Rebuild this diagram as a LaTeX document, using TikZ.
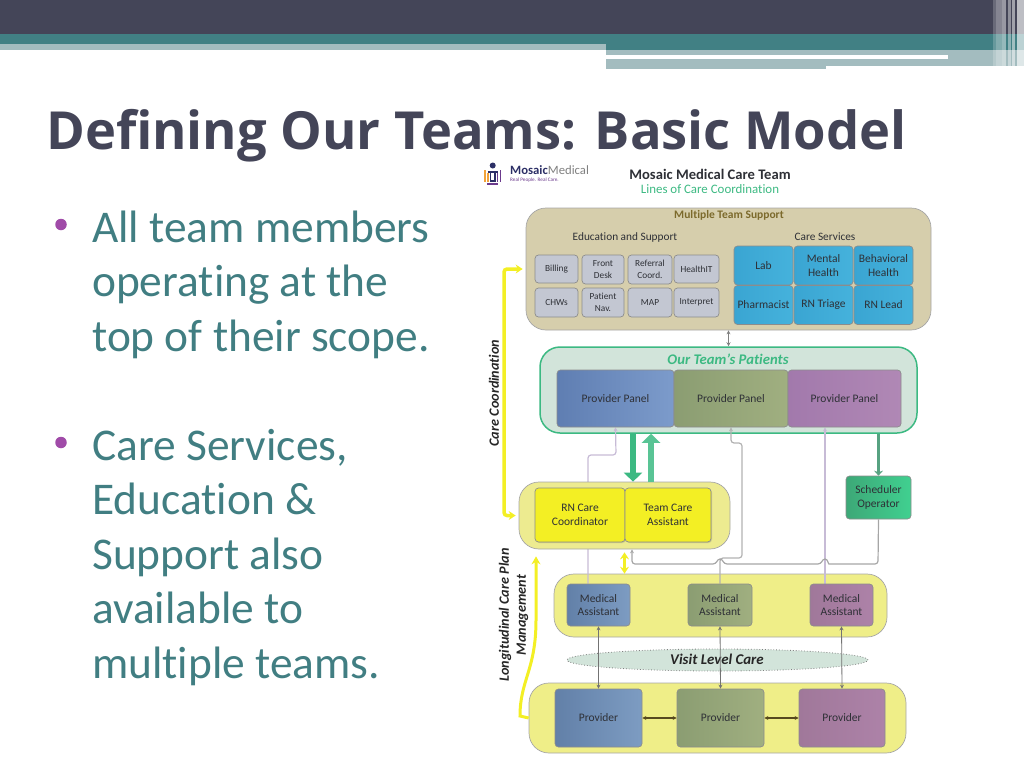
\documentclass[tikz,border=0pt]{standalone}
\usepackage{fontspec}
\setmainfont[Ligatures=NoCommon]{Carlito}
\newfontfamily\titlefont{Open Sans}
\usetikzlibrary{arrows.meta,shadows,shapes.geometric}
\definecolor{slate}{HTML}{444558}
\definecolor{teal1}{HTML}{418084}
\definecolor{teal2}{HTML}{A3BCBF}
\definecolor{bodytxt}{HTML}{417E82}
\definecolor{tanbox}{HTML}{D6CEAC}
\definecolor{paleyel}{HTML}{EFEE88}
\definecolor{paleyel2}{HTML}{EDEB90}
\definecolor{palegrn}{HTML}{D2E4DA}
\definecolor{green1}{HTML}{3CB982}
\definecolor{yel}{HTML}{F3EF24}
\definecolor{txtdk}{HTML}{2E3036}
\definecolor{greycell}{HTML}{C3C7D2}
\definecolor{bullet}{HTML}{A04BA8}
\definecolor{navy}{HTML}{2C2F66}
\definecolor{logopur}{HTML}{6B3A8C}
\definecolor{logoorg}{HTML}{F2A33A}
\definecolor{topbrown}{HTML}{7C6A2C}
\definecolor{lavender}{HTML}{C7BBD6}
\definecolor{skya}{HTML}{3AA5D2}\definecolor{skyb}{HTML}{45B2DC}
\definecolor{bluea}{HTML}{5F7EB2}\definecolor{blueb}{HTML}{7C9BCB}
\definecolor{steela}{HTML}{6280A8}\definecolor{steelb}{HTML}{7D9CC2}
\definecolor{olivea}{HTML}{8B9D72}\definecolor{oliveb}{HTML}{A0AF80}
\definecolor{purpa}{HTML}{A279AC}\definecolor{purpb}{HTML}{B088B5}
\definecolor{mauvea}{HTML}{A0789A}\definecolor{mauveb}{HTML}{AD82A8}
\definecolor{grna}{HTML}{3DA877}\definecolor{grnb}{HTML}{40D090}
\pgfdeclarelayer{back}
\pgfdeclarelayer{conn}
\pgfsetlayers{back,conn,main}
\tikzset{
  rowbox/.style={draw=black!35, rounded corners=20pt, line width=.7pt, inner sep=0pt},
  cell/.style={draw=black!45, rounded corners=3.5pt, line width=.7pt, inner sep=0pt, align=center,
    text=txtdk, font=\fontsize{11.5}{13.5}\selectfont},
  smallcell/.style={cell, fill=greycell, font=\fontsize{9.3}{11.5}\selectfont},
  skycell/.style={cell, left color=skya, right color=skyb},
  bluecell/.style={cell, left color=bluea, right color=blueb},
  steelcell/.style={cell, left color=steela, right color=steelb},
  olivecell/.style={cell, left color=olivea, right color=oliveb},
  purplecell/.style={cell, left color=purpa, right color=purpb},
  mauvecell/.style={cell, left color=mauvea, right color=mauveb},
  greencell/.style={cell, left color=grna, right color=grnb},
  yellowcell/.style={cell, fill=yel, drop shadow={opacity=.3,shadow xshift=1pt,shadow yshift=-1pt}},
  tinytips/.style={{Stealth[length=4pt,width=4pt]}-{Stealth[length=4pt,width=4pt]}},
  yellowtips/.style={{Stealth[length=7pt,width=9pt]}-{Stealth[length=7pt,width=9pt]}},
  greyline/.style={line width=1.2pt, rounded corners=3pt, -{Stealth[length=4pt,width=4pt]}},
  sidelabel/.style={rotate=90, font=\bfseries\itshape\fontsize{14.2}{17}\selectfont, text=black!85, align=center, inner sep=0pt},
  bigtext/.style={font=\fontsize{45.4}{54.5}\selectfont, text=bodytxt, align=left, anchor=base west, inner sep=0pt},
  bulletdot/.style={fill=bullet, circle, minimum size=11.5pt, inner sep=0pt}
}
\begin{document}
\begin{tikzpicture}[x=1pt,y=-1pt]
\useasboundingbox (0,0) rectangle (1024,768);

% --- Header bands ---
\fill[slate] (0,0) rectangle (1024,34);
\fill[teal1] (0,34) rectangle (1024,50);
\fill[teal2] (0,44) rectangle (606,50);
\fill[teal2] (606,50) rectangle (1024,66);
\fill[teal2] (606,66) rectangle (826,69);
\fill[white] (606,55.5) rectangle (948,58.5);
\foreach \xa/\xb/\op in {993/996/.2,996/1002/.35,1002/1006/.45,1008/1011/.4,1012/1015/.5,1017/1024/.65}
  \fill[white,opacity=\op] (\xa,0) rectangle (\xb,69);

% --- Title and bullets ---
\node[font=\titlefont\bfseries\fontsize{52.5}{60}\selectfont, text=slate, anchor=base west, inner sep=0pt] (title) at (46,149) {Defining Our Teams: Basic Model};
\node[bigtext] (bull1) at (92,351) {All team members\\operating at the\\top of their scope.};
\node[bigtext] (bull2) at (92,678) {Care Services,\\Education \&\\Support also\\available to\\multiple teams.};
\node[bulletdot] (dot1) at (61,224.5) {};
\node[bulletdot] (dot2) at (61,442.5) {};

% --- Logo and heading ---
\fill[navy] (492.7,165.5) circle (3);
\draw[logoorg, line width=1.6pt] (485,170) -- (485,182);
\draw[logoorg, line width=1.6pt] (488,173) -- (488,182);
\draw[logopur, line width=1.6pt] (500.5,170) -- (500.5,182);
\draw[logopur, line width=1.6pt] (497.5,173) -- (497.5,182);
\draw[navy, line width=1.2pt] (488,172) -- (497.5,172);
\draw[navy, line width=1.2pt] (490.5,172) -- (490.5,181) -- (495,181) -- (495,172);
\draw[logopur, line width=1.2pt] (487,184) -- (498,184);
\node[font=\fontsize{12.7}{14}\selectfont, text=navy, anchor=west, inner sep=0pt] (logo) at (510,170.5) {\textbf{Mosaic}\textcolor{gray}{Medical}};
\node[font=\fontsize{5.2}{6}\selectfont, text=logopur, anchor=west, inner sep=0pt] (logotag) at (510,180.5) {Real People. Real Care.};
\node[font=\bfseries\fontsize{14.6}{16}\selectfont, text=txtdk, inner sep=0pt] (head) at (710,174) {Mosaic Medical Care Team};
\node[font=\fontsize{12.9}{15}\selectfont, text=green1, inner sep=0pt] (subhead) at (710,189) {Lines of Care Coordination};

% --- Multiple team support ---
\node[rowbox, fill=tanbox, minimum width=405pt, minimum height=122pt] (toprow) at (728.5,269) {};
\node[font=\bfseries\fontsize{11.5}{13}\selectfont, text=topbrown, inner sep=0pt] (toplabel) at (729,215) {Multiple Team Support};
\node[font=\fontsize{11.3}{13}\selectfont, text=txtdk, inner sep=0pt] (edulabel) at (625,237) {Education and Support};
\node[font=\fontsize{11.3}{13}\selectfont, text=txtdk, inner sep=0pt] (carelabel) at (825,237) {Care Services};
\node[smallcell, minimum width=43pt, minimum height=28pt] (billing) at (556.5,269) {Billing};
\node[smallcell, minimum width=42pt, minimum height=29pt] (desk) at (603,269.5) {Front\\Desk};
\node[smallcell, minimum width=44pt, minimum height=29pt] (referral) at (650,269.5) {Referral\\Coord.};
\node[smallcell, minimum width=45pt, minimum height=28pt] (healthit) at (696.5,269) {HealthIT};
\node[smallcell, minimum width=43pt, minimum height=29pt] (chws) at (556.5,302.5) {CHWs};
\node[smallcell, minimum width=42pt, minimum height=29pt] (patnav) at (603,302.5) {Patient\\Nav.};
\node[smallcell, minimum width=44pt, minimum height=29pt] (map) at (650,302.5) {MAP};
\node[smallcell, minimum width=45pt, minimum height=29pt] (interpret) at (696.5,302.5) {Interpret};
\foreach \nm/\cx/\cy/\txt in {lab/763.5/265.5/Lab,mental/823.5/265.5/{Mental\\Health},behav/883.5/265.5/{Behavioral\\Health},pharm/763.5/305/Pharmacist,triage/823.5/305/RN Triage,lead/883.5/305/RN Lead}
  \node[skycell, minimum width=59pt, minimum height=39pt] (\nm) at (\cx,\cy) {\txt};

% --- Our team's patients ---
\begin{pgfonlayer}{back}
\node[draw=green1, fill=palegrn, rounded corners=20pt, line width=1.5pt, minimum width=377pt, minimum height=86pt, inner sep=0pt] (patients) at (728.5,390) {};
\node[rowbox, fill=paleyel, minimum width=333pt, minimum height=63pt] (marow) at (720.5,605.5) {};
\end{pgfonlayer}
\node[font=\bfseries\itshape\fontsize{14.7}{16}\selectfont, text=green1, inner sep=0pt] (patlabel) at (728,359) {Our Team's Patients};
\node[bluecell, minimum width=117pt, minimum height=57pt] (panel1) at (615.5,398.5) {Provider Panel};
\node[olivecell, minimum width=114pt, minimum height=57pt] (panel2) at (731,398.5) {Provider Panel};
\node[purplecell, minimum width=113pt, minimum height=57pt] (panel3) at (844.5,398.5) {Provider Panel};

% --- Care coordinator row ---
\node[rowbox, fill=paleyel2, minimum width=211pt, minimum height=67pt] (teamrow) at (624.5,515.5) {};
\node[yellowcell, minimum width=90pt, minimum height=54pt] (rncare) at (580,515) {RN Care\\Coordinator};
\node[yellowcell, minimum width=86pt, minimum height=54pt] (teamcare) at (668,515) {Team Care\\Assistant};
\node[greencell, minimum width=65pt, minimum height=43pt] (sched) at (878.5,497.5) {Scheduler\\Operator};

% --- Medical assistants and providers ---
\node[steelcell, minimum width=63pt, minimum height=42pt] (ma1) at (598.5,605) {Medical\\Assistant};
\node[olivecell, minimum width=64pt, minimum height=42pt] (ma2) at (720,605) {Medical\\Assistant};
\node[mauvecell, minimum width=63pt, minimum height=42pt] (ma3) at (841.5,605) {Medical\\Assistant};
\node[draw=black!50, dotted, line width=.8pt, fill=palegrn, ellipse, minimum width=301pt, minimum height=22pt, inner sep=0pt] (visit) at (717.5,660) {};
\node[font=\bfseries\itshape\fontsize{14.9}{16}\selectfont, text=black!85, inner sep=0pt] (visitlabel) at (717,659) {Visit Level Care};
\node[rowbox, fill=paleyel, minimum width=377pt, minimum height=70pt] (provrow) at (717.5,718) {};
\node[steelcell, minimum width=87pt, minimum height=58pt] (prov1) at (598.5,718) {Provider};
\node[olivecell, minimum width=87pt, minimum height=58pt] (prov2) at (720.5,718) {Provider};
\node[mauvecell, minimum width=86pt, minimum height=58pt] (prov3) at (842,718) {Provider};

% --- Side labels ---
\node[sidelabel] (coordlabel) at (494,393) {Care Coordination};
\node[sidelabel] (longlabel) at (513.5,615) {Longitudinal Care Plan\\Management};

% --- Connectors ---
\draw[tinytips, black!50, line width=.7pt] (toprow.south) -- (patients.north);
\draw[tinytips, black!55, line width=.8pt] (ma1.south) -- (prov1.north);
\draw[tinytips, black!55, line width=.8pt] (ma2.south) -- (prov2.north);
\draw[tinytips, black!55, line width=.8pt] (ma3.south) -- (prov3.north);
\draw[tinytips, topbrown!70!black, line width=1.2pt] (prov1.east) -- (prov2.west);
\draw[tinytips, topbrown!70!black, line width=1.2pt] (prov2.east) -- (prov3.west);

% Fat green arrows
\draw[-{Triangle[length=9pt,width=18pt]}, green1, line width=6.5pt] ([xshift=17.5pt]panel1.south |- patients.south) -- ([xshift=8.5pt]teamrow.north);
\draw[-{Triangle[length=9pt,width=18pt]}, green1!85!white, line width=6.5pt] ([xshift=26.5pt]teamrow.north) -- ([xshift=35.5pt]panel1.south |- patients.south);
\draw[-{Stealth[length=5pt,width=9pt]}, green1!60!gray, line width=2.5pt] (patients.south -| sched.north) -- (sched.north);

% Thin grey lines, under the boxes
\begin{pgfonlayer}{conn}
\draw[greyline, draw=lavender] ([xshift=-10.5pt]ma1.north) -- (588,455) -- (616,455) -- (panel1.south);
\draw[greyline, draw=black!30] (ma2.north) -- (720,558) -- (742,558) -- (742,443) -- (731,443) -- (panel2.south);
\draw[greyline, draw=lavender] ([xshift=-16.5pt]ma3.north) -- ([xshift=-19.5pt]panel3.south);
\end{pgfonlayer}
\draw[greyline, draw=black!35] (sched.south) -- (878,564) -- (832,564) [sharp corners] .. controls (828,564) and (828,559) .. (825,559) .. controls (822,559) and (822,564) .. (818,564) -- (727,564) .. controls (723,564) and (723,559) .. (720,559) .. controls (717,559) and (717,564) .. (713,564) [rounded corners=3pt] -- (632,564) -- ([xshift=7.5pt]teamrow.south);

% Yellow lines
\draw[yellowtips, yel, line width=3.5pt, rounded corners=3pt, shorten <=3pt, shorten >=3pt] (teamrow.west) -- (504,515.5) -- (504,269) -- (toprow.west);
\draw[yellowtips, yel, line width=3pt, shorten <=3pt] (teamrow.south) -- (teamrow.south |- marow.north);
\draw[-{Stealth[length=8pt,width=9pt]}, yel, line width=3pt, shorten >=7pt] (provrow.west) -- (520,716) .. controls (520,680) and (536,670) .. (536,620) -- ([xshift=-88.5pt]teamrow.south);

\end{tikzpicture}
\end{document}
